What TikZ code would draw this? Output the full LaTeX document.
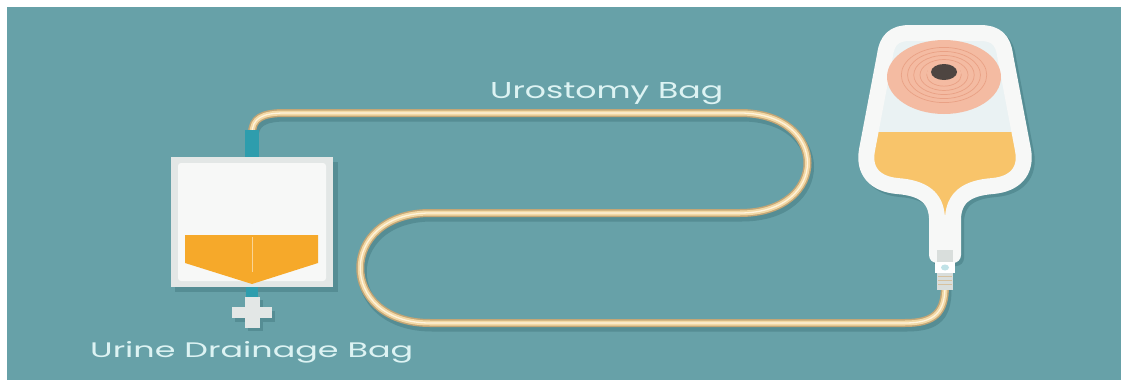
\documentclass[tikz,border=0pt]{standalone}
\usepackage{fontspec}
\setsansfont{Poppins}
\definecolor{bgteal}{HTML}{67A1A8}
\definecolor{shadowteal}{HTML}{558D94}
\definecolor{tubeedgecol}{HTML}{C4A676}
\definecolor{tubecream}{HTML}{F3D9A6}
\definecolor{tubeshinecol}{HTML}{FFF4DC}
\definecolor{labelcol}{HTML}{DDF3F3}
\definecolor{bagwhite}{HTML}{F7F8F7}
\definecolor{bagedge}{HTML}{E3E7E6}
\definecolor{drainorange}{HTML}{F6A92A}
\definecolor{urineorange}{HTML}{F8C46A}
\definecolor{pouchtint}{HTML}{EAF2F3}
\definecolor{flange}{HTML}{F4BBA2}
\definecolor{flangering}{HTML}{E9A185}
\definecolor{stomahole}{HTML}{4E4541}
\definecolor{valveblue}{HTML}{2E9DAD}
\definecolor{fittinggrey}{HTML}{D9DEDC}
\begin{document}
\begin{tikzpicture}[x=1pt,y=-1pt,
  tubeshadow/.style={draw=shadowteal, line width=9pt, line cap=round},
  tubeedge/.style={draw=tubeedgecol, line width=8pt, line cap=round},
  tubecore/.style={draw=tubecream, line width=5pt, line cap=round},
  tubeshine/.style={draw=tubeshinecol, line width=1.3pt, line cap=round},
  caption/.style={text=labelcol, inner sep=0pt, anchor=base west, font=\sffamily}]

% page and backdrop
\fill[white] (0,0) rectangle (1121,380);
\fill[bgteal] (7,7) rectangle (1121,380);
\useasboundingbox (0,0) rectangle (1121,380);

% tube end points
\coordinate (drainTop) at (252,134);
\coordinate (uroOut) at (945,286);

\newcommand\tubeline{(drainTop) .. controls (252,118) and (262,113) .. (285,113)
  -- (740,113) .. controls (830,113) and (830,213) .. (740,213)
  -- (430,213) .. controls (337,213) and (337,323) .. (430,323)
  -- (905,323) .. controls (935,323) and (945,312) .. (uroOut)}

% the drainage tube
\draw[tubeshadow, transform canvas={xshift=2pt,yshift=-4pt}] \tubeline;
\draw[tubeedge] \tubeline;
\draw[tubecore] \tubeline;
\draw[tubeshine] \tubeline;

% ---- urine drainage bag ----
\fill[shadowteal] (175,162) rectangle (338,292);
\fill[valveblue] (245,130) rectangle (259,158);
\fill[valveblue] (246,286) rectangle (258,298);
\fill[bagedge] (171,157) rectangle (333,287);
\fill[bagwhite, rounded corners=3pt] (178,163) rectangle (326,281);
\node[fill=drainorange, inner sep=0pt, minimum size=0pt] (drainbag) at (252,222) {};
\fill[drainorange] (185,235) -- (318,235) -- (318,263) -- (252,284) -- (185,263) -- cycle;
\draw[drainorange!50!white, line width=0.8pt] (252,237) -- (252,272);
% outlet valve
\fill[shadowteal] (235,311) rectangle (275,322);
\fill[shadowteal] (248,300) rectangle (263,331);
\fill[bagedge] (232,307) rectangle (272,318);
\fill[bagedge] (245,297) rectangle (260,328);

% ---- urostomy pouch ----
\newcommand\pouchline{(910,33) -- (980,33) .. controls (996,33) and (1003,40) .. (1005,55)
  -- (1023,150) .. controls (1027,172) and (1014,184) .. (993,186)
  .. controls (966,188) and (954,198) .. (953,218) -- (953,255) -- (937,255) -- (937,218)
  .. controls (936,198) and (924,188) .. (897,186)
  .. controls (876,184) and (863,172) .. (867,150)
  -- (885,55) .. controls (887,40) and (894,33) .. (910,33) -- cycle}
\draw[shadowteal, fill=shadowteal, line width=16pt, line join=round,
  transform canvas={xshift=3pt,yshift=-3pt}] \pouchline;
\fill[pouchtint] \pouchline;
\begin{scope}
  \clip \pouchline;
  \fill[urineorange] (850,132) rectangle (1040,260);
  \fill[urineorange!60!white] (930,238) rectangle (960,260);
\end{scope}
\draw[bagwhite, line width=16pt, line join=round] \pouchline;
\node[inner sep=0pt] (pouch) at (945,150) {};

% stoma flange
\fill[flange] (944,77) ellipse [x radius=57pt, y radius=37pt];
\foreach \k in {0.36,0.5,0.63,0.76,0.89}
  \draw[flangering, line width=0.7pt] (944,75) ellipse [x radius=\k*48pt, y radius=\k*31pt];
\fill[flange] (944,73) ellipse [x radius=17pt, y radius=11pt];
\fill[stomahole] (944,72) ellipse [x radius=13pt, y radius=8pt];

% outlet fitting
\fill[fittinggrey] (937,250) rectangle (953,290);
\fill[white] (935,262) rectangle (955,273);
\fill[valveblue!30!white] (945,267.5) ellipse [x radius=4pt, y radius=3pt];
\foreach \yy in {276,280,284}
  \draw[tubeedgecol!70!white, line width=1pt] (938,\yy) -- (952,\yy);

% labels
\node[caption] (uroLabel) at (490,98) {\resizebox{233pt}{16pt}{Urostomy Bag}};
\node[caption] (drainLabel) at (90,357) {\resizebox{323pt}{16pt}{Urine Drainage Bag}};
\end{tikzpicture}
\end{document}
